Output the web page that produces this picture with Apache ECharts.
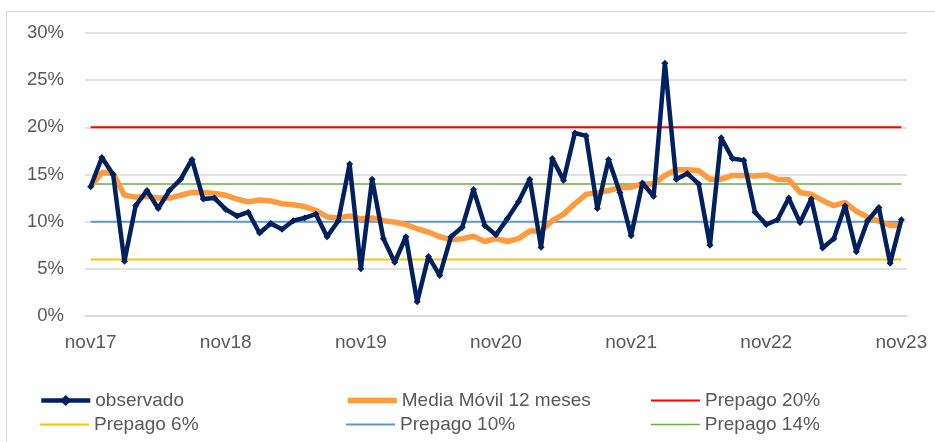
<!DOCTYPE html>
<html>
<head>
<meta charset="utf-8">
<script src="https://cdn.jsdelivr.net/npm/echarts@6/dist/echarts.min.js"></script>
<style>
  html, body { margin: 0; padding: 0; background: #fff; }
  #main { width: 935px; height: 442px; }
</style>
</head>
<body>
<div id="main"></div>
<script>
// meses nov17 .. nov23
var meses = ['ene', 'feb', 'mar', 'abr', 'may', 'jun', 'jul', 'ago', 'sep', 'oct', 'nov', 'dic'];
var categorias = [];
for (var k = 0; k < 73; k++) {
  var m = (10 + k) % 12;
  var yy = 17 + Math.floor((10 + k) / 12);
  categorias.push(meses[m] + yy);
}

var observado = [
  13.7, 16.8, 15.0, 5.8, 11.7, 13.3, 11.4, 13.3, 14.5, 16.6, 12.4, 12.5,
  11.3, 10.6, 11.0, 8.8, 9.8, 9.2, 10.1, 10.4, 10.8, 8.4, 10.1, 16.1,
  5.0, 14.5, 8.2, 5.7, 8.4, 1.5, 6.3, 4.3, 8.4, 9.4, 13.4, 9.6,
  8.6, 10.3, 12.1, 14.5, 7.3, 16.7, 14.4, 19.4, 19.1, 11.4, 16.6, 13.1,
  8.5, 14.1, 12.7, 26.8, 14.5, 15.1, 14.0, 7.5, 18.9, 16.7, 16.5, 11.0,
  9.7, 10.2, 12.5, 9.9, 12.4, 7.2, 8.2, 11.7, 6.8, 10.1, 11.5, 5.6,
  10.2
];

var mediaMovil = [
  13.7, 15.2, 15.1, 12.8, 12.6, 12.7, 12.5, 12.5, 12.8, 13.1, 13.1, 13.0,
  12.8, 12.4, 12.1, 12.3, 12.2, 11.9, 11.8, 11.6, 11.2, 10.5, 10.4, 10.6,
  10.3, 10.4, 10.1, 9.95, 9.7, 9.25, 8.9, 8.4, 8.1, 8.2, 8.45, 7.9,
  8.2, 7.9, 8.2, 9.0, 9.0, 10.1, 10.8, 11.9, 12.9, 13.05, 13.3, 13.6,
  13.65, 14.0, 14.0, 14.9, 15.5, 15.5, 15.4, 14.5, 14.5, 14.9, 14.9, 14.85,
  14.95, 14.5, 14.45, 13.1, 12.9, 12.25, 11.7, 12.05, 11.1, 10.5, 10.05, 9.6,
  9.6
];

var umbrales = [20, 6, 10, 14];

function constante(v) {
  return categorias.map(function () { return v; });
}

var textoGris = '#595959';

// una leyenda por elemento, en 3 columnas x 2 filas
function leyenda(nombre, left, top, ancho, conSimbolo) {
  var item = { name: nombre, lineStyle: { width: ancho } };
  if (!conSimbolo) item.itemStyle = { opacity: 0 };
  return {
    left: left, top: top, padding: 0, orient: 'horizontal',
    itemWidth: 49, itemHeight: 14,
    textStyle: { fontSize: 19, color: textoGris },
    data: [item]
  };
}

var chart = echarts.init(document.getElementById('main'));

var option = {
  animation: false,
  textStyle: { fontFamily: 'Liberation Sans, Arial, sans-serif' },
  graphic: [{
    type: 'rect',
    shape: { x: 6.5, y: 11.5, width: 1000, height: 1000 },
    style: { fill: 'none', stroke: '#D9D9D9', lineWidth: 1 },
    silent: true
  }],
  grid: { left: 85, right: 28, top: 33, bottom: 126 },
  xAxis: {
    type: 'category',
    data: categorias,
    boundaryGap: true,
    axisLine: { lineStyle: { color: '#D9D9D9', width: 1.5 } },
    axisTick: { interval: 11, length: 6, lineStyle: { color: '#D9D9D9', width: 1.5 } },
    axisLabel: { interval: 11, margin: 17, fontSize: 19, color: textoGris }
  },
  yAxis: {
    type: 'value',
    min: 0,
    max: 30,
    interval: 5,
    axisLine: { show: false },
    axisTick: { show: false },
    axisLabel: { margin: 21, fontSize: 18.5, color: textoGris, formatter: '{value}%' },
    splitLine: { lineStyle: { color: '#D9D9D9', width: 1.5 } }
  },
  legend: [
    leyenda('observado', 39, 391, 4.5, true),
    leyenda('Prepago 6%', 39, 415, 2, false),
    leyenda('Media Móvil 12 meses', 345, 391, 5.5, false),
    leyenda('Prepago 10%', 345, 415, 2, false),
    leyenda('Prepago 20%', 650, 391, 2, false),
    leyenda('Prepago 14%', 650, 415, 1.5, false)
  ],
  series: [
    {
      name: 'Prepago 20%', type: 'line', data: constante(umbrales[0]), symbol: 'none', z: 1,
      lineStyle: { color: '#FF0000', width: 2 }, itemStyle: { color: '#FF0000' }
    },
    {
      name: 'Prepago 6%', type: 'line', data: constante(umbrales[1]), symbol: 'none', z: 1,
      lineStyle: { color: '#FFC000', width: 2 }, itemStyle: { color: '#FFC000' }
    },
    {
      name: 'Prepago 10%', type: 'line', data: constante(umbrales[2]), symbol: 'none', z: 1,
      lineStyle: { color: '#5B9BD5', width: 2 }, itemStyle: { color: '#5B9BD5' }
    },
    {
      name: 'Prepago 14%', type: 'line', data: constante(umbrales[3]), symbol: 'none', z: 1,
      lineStyle: { color: '#70AD47', width: 1.5 }, itemStyle: { color: '#70AD47' }
    },
    {
      name: 'Media Móvil 12 meses', type: 'line', data: mediaMovil, symbol: 'none', z: 2,
      lineStyle: { color: '#FF9B3D', width: 5.5 }, itemStyle: { color: '#FF9B3D' }
    },
    {
      name: 'observado', type: 'line', data: observado, z: 3,
      symbol: 'diamond', symbolSize: 7, showSymbol: true,
      lineStyle: { color: '#002060', width: 4.5 }, itemStyle: { color: '#002060' }
    }
  ]
};

chart.setOption(option);
</script>
</body>
</html>
